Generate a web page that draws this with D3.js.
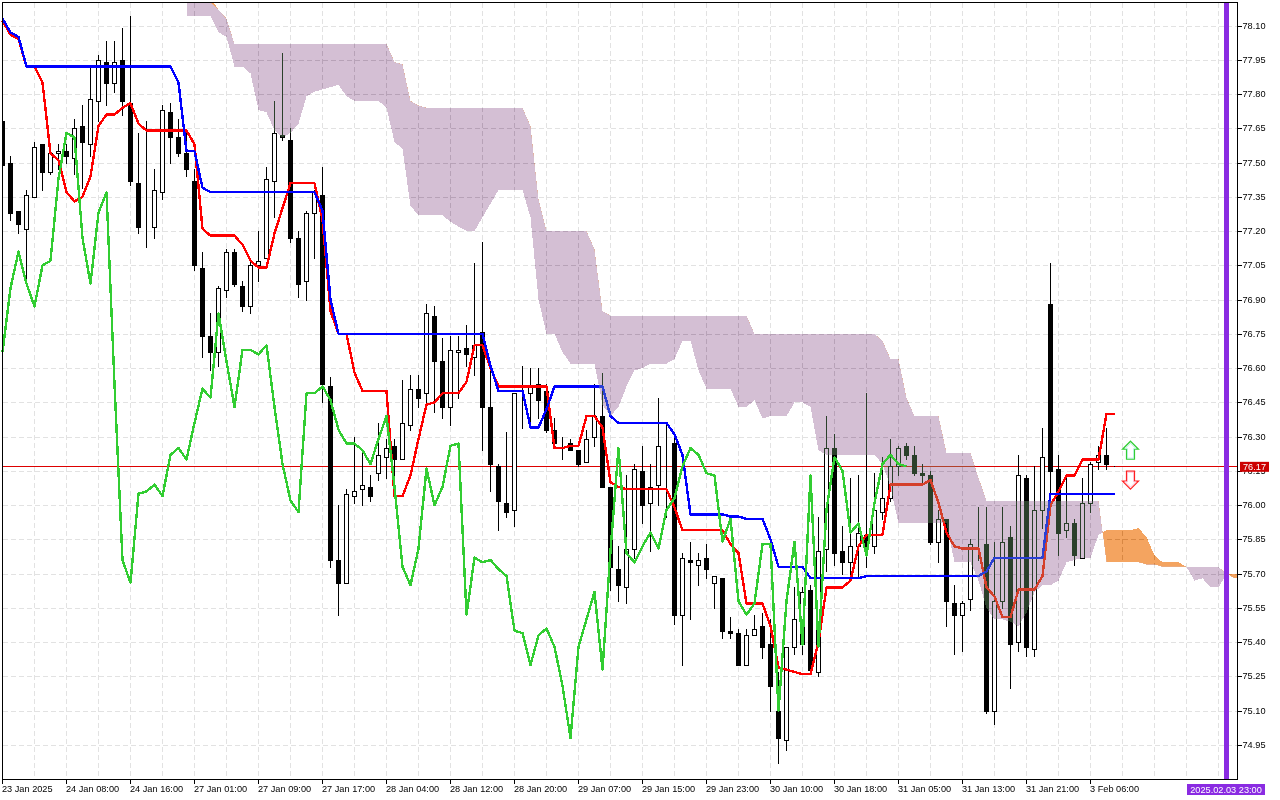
<!DOCTYPE html>
<html>
    <head>
        <meta charset="utf-8">
        <title>Ichimoku chart</title>
        <script type="text/javascript" src="https://d3js.org/d3.v7.min.js"></script>
        <style>
            html, body { margin: 0; padding: 0; background: #fff; }
            svg { display: block; }
            text { font-family: "Liberation Sans", sans-serif; font-size: 9.2px; fill: #000; }
        </style>
    </head>
    <body>
        <div class="chart"></div>

        <script type="text/javascript">
            // candles, one entry per hourly bar
            const opens = [
                77.68,77.50,77.29,77.21,77.35,77.58,77.46,77.54,77.55,77.52,
                77.66,77.58,77.77,77.94,77.85,77.95,77.76,77.41,77.22,77.22,
                77.37,77.72,77.61,77.54,77.42,77.04,76.74,76.67,76.94,77.11,
                76.96,76.87,77.05,77.08,77.42,77.62,77.60,77.17,76.98,77.28,
                77.36,76.52,75.76,75.66,76.04,76.07,76.08,76.14,76.21,76.26,
                76.20,76.35,76.51,76.49,76.83,76.63,76.43,76.67,76.69,76.65,
                76.76,76.43,76.17,76.01,75.98,76.49,76.49,76.53,76.50,76.33,
                76.27,76.27,76.24,76.19,76.30,76.39,76.08,75.72,75.64,75.81,
                76.15,76.01,76.09,76.27,76.27,75.52,75.76,75.74,75.77,75.66,
                75.68,75.45,75.44,75.30,75.43,75.47,75.39,75.10,74.97,75.38,
                75.39,75.63,75.27,75.81,76.25,75.80,75.75,75.82,75.87,75.82,
                75.97,76.03,76.17,76.26,76.22,76.14,76.13,75.84,75.94,75.57,
                75.52,75.59,75.83,75.83,75.10,75.58,75.86,75.40,76.12,75.37,
                75.98,76.88,76.16,75.89,75.92,75.77,76.01,76.19,76.22,76.17
            ];
            const highs = [
                77.68,77.53,77.29,77.38,77.59,77.58,77.54,77.58,77.58,77.69,
                77.75,77.92,77.97,78.03,78.03,78.09,78.14,77.63,77.68,77.47,
                77.75,77.76,77.69,77.64,77.47,77.11,76.84,76.96,77.12,77.12,
                76.98,77.07,77.20,77.48,77.77,77.98,77.65,77.20,77.29,77.38,
                77.48,76.56,76.00,76.07,76.30,76.23,76.13,76.36,76.29,76.29,
                76.55,76.57,76.57,76.88,76.87,76.73,76.74,76.74,76.79,77.06,
                77.15,76.59,76.18,76.32,76.49,76.61,76.60,76.60,76.53,76.38,
                76.30,76.29,76.24,76.33,76.53,76.58,76.08,75.82,76.13,76.18,
                76.26,76.18,76.47,76.36,76.32,75.79,75.84,75.79,75.83,75.69,
                75.68,75.51,75.46,75.46,75.52,75.53,75.50,75.27,75.38,75.64,
                75.64,75.65,75.95,76.39,76.31,75.91,76.12,76.13,76.49,76.14,
                76.21,76.29,76.26,76.27,76.26,76.18,76.15,75.98,75.94,75.65,
                75.58,75.85,75.99,75.99,75.84,75.99,75.91,76.22,76.13,76.17,
                76.34,77.06,76.22,76.13,75.94,76.12,76.19,76.26,76.34,76.17
            ];
            const lows = [
                77.49,77.25,77.19,76.99,77.35,77.38,77.45,77.47,77.50,77.45,
                77.39,77.53,77.68,77.75,77.81,77.71,77.40,77.19,77.13,77.17,
                77.34,77.50,77.53,77.44,77.03,76.65,76.59,76.61,76.91,76.96,
                76.85,76.84,76.98,77.08,77.26,77.60,77.15,76.91,76.90,77.08,
                76.45,75.73,75.52,75.66,76.01,76.00,76.02,76.11,76.12,76.12,
                76.20,76.33,76.43,76.44,76.41,76.38,76.35,76.47,76.61,76.57,
                76.24,76.06,75.89,75.95,75.91,76.34,76.37,76.38,76.32,76.27,
                76.20,76.24,76.17,76.19,76.26,76.08,75.63,75.58,75.57,75.77,
                75.92,75.80,76.00,75.95,75.48,75.30,75.50,75.65,75.68,75.55,
                75.42,75.42,75.30,75.30,75.43,75.33,75.10,74.87,74.93,75.35,
                75.35,75.28,75.25,75.71,75.74,75.70,75.70,75.68,75.73,75.79,
                75.94,76.02,76.13,76.20,76.13,76.10,75.83,75.75,75.47,75.35,
                75.36,75.54,75.76,75.09,75.04,75.55,75.20,75.36,75.34,75.34,
                75.90,76.02,75.78,75.86,75.74,75.77,75.97,76.16,76.16,76.17
            ];
            const closes = [
                77.49,77.28,77.23,77.36,77.57,77.46,77.54,77.55,77.53,77.65,
                77.59,77.78,77.95,77.85,77.94,77.77,77.42,77.22,77.22,77.38,
                77.73,77.61,77.54,77.47,77.05,76.74,76.67,76.95,77.11,76.97,
                76.87,77.05,77.07,77.43,77.63,77.61,77.17,76.97,77.28,77.37,
                76.53,75.76,75.66,76.05,76.06,76.09,76.04,76.22,76.25,76.20,
                76.36,76.51,76.47,76.84,76.63,76.43,76.68,76.68,76.66,76.70,
                76.43,76.18,76.02,75.97,76.49,76.49,76.52,76.46,76.33,76.27,
                76.27,76.24,76.18,76.29,76.39,76.08,75.73,75.65,75.81,76.16,
                76.00,76.08,76.26,76.27,75.52,75.77,75.75,75.76,75.72,75.69,
                75.45,75.44,75.30,75.43,75.46,75.38,75.21,74.98,75.38,75.50,
                75.62,75.28,75.80,76.25,75.79,75.75,75.82,75.88,75.81,75.98,
                76.03,76.17,76.25,76.22,76.14,76.13,75.84,75.94,75.58,75.52,
                75.57,75.83,75.83,75.10,75.58,75.84,75.39,76.13,75.38,75.98,
                76.21,76.15,75.88,75.92,75.78,76.01,76.18,76.22,76.18,76.17
            ];

            // ichimoku lines
            const tenkan = [
                78.12,78.06,78.04,77.92,77.92,77.85,77.54,77.51,77.37,77.33,
                77.35,77.44,77.66,77.71,77.71,77.74,77.76,77.67,77.64,77.64,
                77.64,77.64,77.64,77.64,77.58,77.21,77.18,77.18,77.18,77.18,
                77.14,77.07,77.04,77.04,77.19,77.30,77.41,77.41,77.41,77.41,
                77.25,76.85,76.75,76.75,76.58,76.50,76.50,76.50,76.50,76.04,
                76.04,76.13,76.29,76.44,76.45,76.49,76.49,76.49,76.54,76.70,
                76.70,76.60,76.52,76.52,76.52,76.52,76.52,76.52,76.52,76.25,
                76.25,76.26,76.26,76.39,76.39,76.34,76.10,76.08,76.07,76.07,
                76.07,76.07,76.07,76.07,75.99,75.89,75.89,75.89,75.89,75.89,
                75.89,75.83,75.79,75.57,75.57,75.57,75.47,75.29,75.28,75.27,
                75.26,75.26,75.40,75.64,75.64,75.64,75.67,75.82,75.87,75.87,
                75.87,76.09,76.09,76.09,76.09,76.09,76.11,76.01,75.88,75.82,
                75.81,75.81,75.81,75.64,75.60,75.51,75.51,75.63,75.63,75.63,
                75.69,76.00,76.06,76.13,76.13,76.20,76.20,76.20,76.40,76.40
            ];
            const kijun = [
                78.13,78.07,78.05,77.92,77.92,77.92,77.92,77.92,77.92,77.92,
                77.92,77.92,77.92,77.92,77.92,77.92,77.92,77.92,77.92,77.92,
                77.92,77.92,77.85,77.55,77.55,77.39,77.37,77.37,77.37,77.37,
                77.37,77.37,77.37,77.37,77.37,77.37,77.37,77.37,77.37,77.37,
                77.29,76.90,76.75,76.75,76.75,76.75,76.75,76.75,76.75,76.75,
                76.75,76.75,76.75,76.75,76.75,76.75,76.75,76.75,76.75,76.75,
                76.75,76.61,76.50,76.50,76.50,76.50,76.34,76.34,76.42,76.52,
                76.52,76.52,76.52,76.52,76.52,76.52,76.39,76.36,76.36,76.36,
                76.36,76.36,76.36,76.36,76.31,76.22,75.96,75.96,75.96,75.96,
                75.96,75.95,75.95,75.94,75.94,75.94,75.85,75.73,75.73,75.73,
                75.73,75.68,75.68,75.68,75.68,75.68,75.68,75.68,75.69,75.69,
                75.69,75.69,75.69,75.69,75.69,75.69,75.69,75.69,75.69,75.69,
                75.69,75.69,75.69,75.71,75.77,75.77,75.77,75.77,75.77,75.77,
                75.77,76.05,76.05,76.05,76.05,76.05,76.05,76.05,76.05,76.05
            ];
            // lagging line, starts at the first bar
            const chikou = [
                76.67,76.95,77.11,76.97,76.87,77.05,77.07,77.43,77.63,77.61,
                77.17,76.97,77.28,77.37,76.53,75.76,75.66,76.05,76.06,76.09,
                76.04,76.22,76.25,76.20,76.36,76.51,76.47,76.84,76.63,76.43,
                76.68,76.68,76.66,76.70,76.43,76.18,76.02,75.97,76.49,76.49,
                76.52,76.46,76.33,76.27,76.27,76.24,76.18,76.29,76.39,76.08,
                75.73,75.65,75.81,76.16,76.00,76.08,76.26,76.27,75.52,75.77,
                75.75,75.76,75.72,75.69,75.45,75.44,75.30,75.43,75.46,75.38,
                75.21,74.98,75.38,75.50,75.62,75.28,75.80,76.25,75.79,75.75,
                75.82,75.88,75.81,75.98,76.03,76.17,76.25,76.22,76.14,76.13,
                75.84,75.94,75.58,75.52,75.57,75.83,75.83,75.10,75.58,75.84,
                75.39,76.13,75.38,75.98,76.21,76.15,75.88,75.92,75.78,76.01,
                76.18,76.22,76.18,76.17
            ];

            // cloud spans, first value belongs to bar 23
            const cloudStart = 23;
            const spanA = [
                78.14,78.14,78.14,78.14,78.07,78.05,77.92,77.92,77.89,77.73,
                77.72,77.64,77.61,77.63,77.67,77.79,77.81,77.82,77.83,77.84,
                77.79,77.77,77.77,77.77,77.77,77.74,77.59,77.56,77.31,77.27,
                77.27,77.27,77.27,77.24,77.22,77.20,77.20,77.26,77.32,77.38,
                77.38,77.38,77.38,77.26,76.90,76.75,76.75,76.67,76.62,76.62,
                76.62,76.62,76.44,76.39,76.43,76.52,76.59,76.60,76.62,76.62,
                76.62,76.64,76.72,76.72,76.59,76.51,76.51,76.51,76.51,76.43,
                76.43,76.46,76.38,76.39,76.39,76.39,76.45,76.45,76.43,76.24,
                76.22,76.22,76.22,76.22,76.22,76.22,76.22,76.18,76.08,75.92,
                75.92,75.92,75.92,75.92,75.92,75.92,75.75,75.75,75.75,75.67,
                75.55,75.50,75.50,75.49,75.47,75.53,75.62,75.65,75.65,75.67,
                75.75,75.76,75.77,75.77,75.87,75.89,75.89,75.89,75.89,75.90,
                75.86,75.78,75.75,75.75,75.75,75.73,75.67,75.68,75.64,75.64,
                75.70,75.70,75.70
            ];
            const spanB = [
                78.26,78.26,78.26,78.22,78.17,78.13,78.02,78.02,78.02,78.02,
                78.02,78.02,78.02,78.02,78.02,78.02,78.02,78.02,78.02,78.02,
                78.02,78.02,78.02,78.02,78.02,78.02,77.94,77.93,77.77,77.75,
                77.74,77.74,77.74,77.74,77.74,77.74,77.74,77.74,77.74,77.74,
                77.74,77.74,77.74,77.66,77.34,77.20,77.20,77.20,77.20,77.20,
                77.20,77.12,76.85,76.83,76.83,76.83,76.83,76.83,76.83,76.83,
                76.83,76.83,76.83,76.83,76.83,76.83,76.83,76.83,76.83,76.83,
                76.83,76.75,76.75,76.75,76.75,76.75,76.75,76.75,76.75,76.75,
                76.75,76.75,76.75,76.75,76.75,76.75,76.75,76.72,76.64,76.64,
                76.47,76.39,76.39,76.39,76.39,76.23,76.23,76.23,76.23,76.12,
                76.02,76.02,76.02,76.02,76.02,76.02,76.02,76.02,76.02,76.02,
                76.02,76.02,76.02,76.02,76.02,75.75,75.75,75.75,75.75,75.75,
                75.74,75.74,75.73,75.73,75.73,75.73,75.73,75.73,75.73,75.73,
                75.70,75.68,75.68
            ];

            // axis labels
            const timeTickBars = [0, 8, 16, 24, 32, 40, 48, 56, 64, 72, 80, 88, 96, 104, 112, 120, 128, 136];
            const timeLabels = ['23 Jan 2025', '24 Jan 08:00', '24 Jan 16:00', '27 Jan 01:00', '27 Jan 09:00', '27 Jan 17:00',
                '28 Jan 04:00', '28 Jan 12:00', '28 Jan 20:00', '29 Jan 07:00', '29 Jan 15:00', '29 Jan 23:00',
                '30 Jan 10:00', '30 Jan 18:00', '31 Jan 05:00', '31 Jan 13:00', '31 Jan 21:00', '3 Feb 06:00'];
            const gridBars = d3.range(4, 153, 4);
            const priceTicks = [78.10, 77.95, 77.80, 77.65, 77.50, 77.35, 77.20, 77.05, 76.90, 76.75, 76.60,
                76.45, 76.30, 76.15, 76.00, 75.85, 75.70, 75.55, 75.40, 75.25, 75.10, 74.95];

            const lastPrice = 76.17;
            const verticalBar = 153;
            const verticalLabel = '2025.02.03 23:00';
            const arrowBar = 141;
            const arrowUpPrice = 76.28;
            const arrowDownPrice = 76.07;

            const width = 1280;
            const height = 800;
            const plotLeft = 2.5, plotRight = 1237.5, plotTop = 2.5, plotBottom = 779.5;

            const x = d3.scaleLinear().domain([0, 154]).range([2.5, 1234.5]);
            const y = d3.scaleLinear().domain([78.10, 74.95]).range([25.5, 745]);
            const py = v => Math.round(y(v)) + 0.5;

            const svg = d3.select('.chart')
                .append('svg')
                    .attr('width', width)
                    .attr('height', height);

            svg.append('rect')
                .attr('width', width)
                .attr('height', height)
                .attr('fill', '#fff');

            const defs = svg.append('defs');
            defs.append('clipPath').attr('id', 'plot')
                .append('rect')
                    .attr('x', plotLeft)
                    .attr('y', plotTop)
                    .attr('width', plotRight - plotLeft)
                    .attr('height', plotBottom - plotTop);

            // grid
            const grid = svg.append('g')
                .attr('stroke', '#e2e2e2')
                .attr('stroke-dasharray', '5,3')
                .attr('shape-rendering', 'crispEdges');
            grid.selectAll('.gx')
                .data(gridBars)
                .enter()
                .append('line')
                    .attr('x1', d => x(d))
                    .attr('x2', d => x(d))
                    .attr('y1', plotTop)
                    .attr('y2', plotBottom);
            grid.selectAll('.gy')
                .data(priceTicks)
                .enter()
                .append('line')
                    .attr('x1', plotLeft)
                    .attr('x2', plotRight)
                    .attr('y1', d => py(d))
                    .attr('y2', d => py(d));

            // price line sits under the candles
            svg.append('line')
                .attr('x1', plotLeft)
                .attr('x2', plotRight)
                .attr('y1', py(lastPrice))
                .attr('y2', py(lastPrice))
                .attr('stroke', '#dd0000')
                .attr('shape-rendering', 'crispEdges');

            // candles
            const candles = svg.append('g')
                .attr('clip-path', 'url(#plot)')
                .attr('shape-rendering', 'crispEdges');
            candles.selectAll('.wick')
                .data(closes)
                .enter()
                .append('line')
                    .attr('x1', (d, i) => x(i))
                    .attr('x2', (d, i) => x(i))
                    .attr('y1', (d, i) => py(highs[i]) - 0.5)
                    .attr('y2', (d, i) => py(lows[i]) + 0.5)
                    .attr('stroke', '#000');
            candles.selectAll('.body')
                .data(closes)
                .enter()
                .append('rect')
                    .attr('x', (d, i) => x(i) - 2)
                    .attr('y', (d, i) => Math.min(py(opens[i]), py(d)))
                    .attr('width', 4)
                    .attr('height', (d, i) => Math.abs(py(opens[i]) - py(d)))
                    .attr('fill', (d, i) => d > opens[i] ? '#fff' : '#000')
                    .attr('stroke', '#000');

            const line = d3.line()
                .x((d, i) => x(i))
                .y(d => y(d));

            const drawLine = (values, color) => svg.append('path')
                .datum(values)
                .attr('d', line)
                .attr('fill', 'none')
                .attr('stroke', color)
                .attr('stroke-width', 2.4)
                .attr('stroke-linejoin', 'round')
                .attr('shape-rendering', 'crispEdges');

            drawLine(tenkan, '#ff0000');
            drawLine(kijun, '#0000ff');

            // the cloud colours come from inverting what is under it, like the terminal's filling
            const cx = (d, i) => x(i + cloudStart);
            const cloudArea = d3.area()
                .x(cx)
                .y0((d, i) => y(spanA[i]))
                .y1((d, i) => y(spanB[i]));
            const purpleClip = d3.area()
                .x((d, i) => Math.min(cx(d, i), plotRight))
                .y0((d, i) => Math.max(y(spanB[i]), plotTop))
                .y1(plotBottom);
            const orangeClip = d3.area()
                .x((d, i) => Math.min(cx(d, i), plotRight))
                .y0(plotTop)
                .y1((d, i) => Math.max(y(spanB[i]), plotTop));

            defs.append('clipPath').attr('id', 'cloud-purple')
                .append('path').attr('d', purpleClip(spanA));
            defs.append('clipPath').attr('id', 'cloud-orange')
                .append('path').attr('d', orangeClip(spanA));

            [['cloud-purple', '#2b402b'], ['cloud-orange', '#0b5b9f']].forEach(([id, color]) => {
                svg.append('path')
                    .attr('d', cloudArea(spanA))
                    .attr('clip-path', `url(#${id})`)
                    .attr('fill', color)
                    .attr('shape-rendering', 'crispEdges')
                    .style('mix-blend-mode', 'difference');
            });

            drawLine(chikou, '#32cd32');

            // vertical line object
            svg.append('rect')
                .attr('x', x(verticalBar) - 2.5)
                .attr('y', plotTop)
                .attr('width', 5)
                .attr('height', plotBottom - plotTop)
                .attr('fill', '#8a2be2');

            // arrows
            const arrowPath = 'M0,0L8,8L4,8L4,18L-4,18L-4,8L-8,8Z';
            const innerPath = 'M0,2L5.5,7.5L3,7.5L3,17L-3,17L-3,7.5L-5.5,7.5Z';
            const drawArrow = (price, flip, outer, inner) => {
                const g = svg.append('g')
                    .attr('transform', `translate(${x(arrowBar)},${y(price)}) scale(1,${flip})`);
                g.append('path').attr('d', arrowPath).attr('fill', '#fff').attr('stroke', outer).attr('stroke-width', 1.2);
                g.append('path').attr('d', innerPath).attr('fill', '#fff').attr('stroke', inner).attr('stroke-width', 0.8);
            };
            drawArrow(arrowUpPrice, 1, '#32cd32', '#a8ecd8');
            drawArrow(arrowDownPrice, -1, '#ff2020', '#ffb0c8');

            // axes
            const yAxis = d3.axisRight(y)
                .tickValues(priceTicks)
                .tickSize(4)
                .tickPadding(1)
                .offset(0)
                .tickFormat(d3.format('.2f'));
            const yg = svg.append('g')
                .attr('transform', `translate(${plotRight},0)`)
                .call(yAxis);
            yg.select('.domain').remove();
            yg.selectAll('.tick').attr('transform', d => `translate(0,${py(d)})`);

            const xAxis = d3.axisBottom(x)
                .tickValues(timeTickBars)
                .tickSize(4)
                .tickPadding(2)
                .offset(0)
                .tickFormat((d, i) => timeLabels[i]);
            const xg = svg.append('g')
                .attr('transform', `translate(0,${plotBottom})`)
                .call(xAxis);
            xg.select('.domain').remove();
            xg.selectAll('text').attr('text-anchor', 'start').attr('dx', '-0.5');

            svg.selectAll('.tick line').attr('shape-rendering', 'crispEdges').attr('stroke', '#000');

            svg.append('rect')
                .attr('x', plotLeft)
                .attr('y', plotTop)
                .attr('width', plotRight - plotLeft)
                .attr('height', plotBottom - plotTop)
                .attr('fill', 'none')
                .attr('stroke', '#000')
                .attr('shape-rendering', 'crispEdges');

            // last price tag
            svg.append('rect')
                .attr('x', 1240)
                .attr('y', y(lastPrice) - 4.5)
                .attr('width', 29)
                .attr('height', 10)
                .attr('fill', '#cc0000');
            svg.append('text')
                .attr('x', 1243)
                .attr('y', y(lastPrice) + 4)
                .style('fill', '#fff')
                .text(d3.format('.2f')(lastPrice));

            // vertical line date tag
            svg.append('rect')
                .attr('x', 1187)
                .attr('y', 784)
                .attr('width', 78)
                .attr('height', 11)
                .attr('fill', '#8a2be2');
            svg.append('text')
                .attr('x', 1226)
                .attr('y', 793)
                .attr('text-anchor', 'middle')
                .style('fill', '#fff')
                .text(verticalLabel);
        </script>
    </body>
</html>
